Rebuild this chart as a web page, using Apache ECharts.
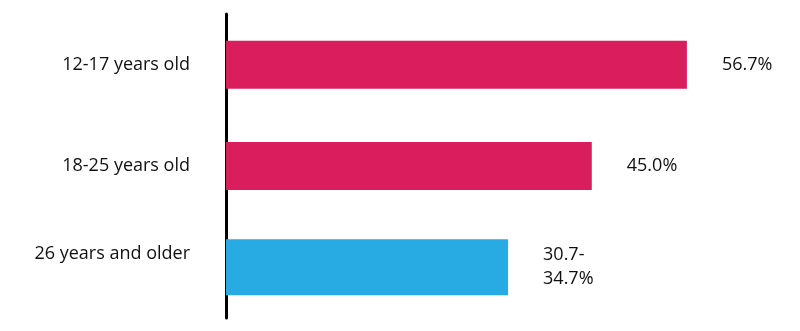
<!DOCTYPE html>
<html>
<head>
<meta charset="utf-8">
<script src="https://cdn.jsdelivr.net/npm/echarts@6/dist/echarts.min.js"></script>
<style>
html,body{margin:0;padding:0;background:#fff;}
#chart{width:800px;height:331px;}
</style>
</head>
<body>
<div id="chart"></div>
<script>
const categories = ['12-17 years old', '18-25 years old', '26 years and older'];
const youthValues = [56.7, 45.0, null];
const adultValues = [null, null, 34.7];
const valueLabels = ['56.7%', '45.0%', '30.7-\n34.7%'];

const FONT = '"Open Sans", sans-serif';
const chart = echarts.init(document.getElementById('chart'));

const labelCfg = {
  show: true,
  position: 'right',
  distance: 35,
  color: '#111',
  fontFamily: FONT,
  fontSize: 18,
  lineHeight: 24,
  formatter: p => valueLabels[p.dataIndex]
};

chart.setOption({
  animation: false,
  grid: { left: 226, top: 14, height: 304, width: 569 },
  xAxis: {
    type: 'value', min: 0, max: 70,
    show: false
  },
  yAxis: [
    {
      type: 'category',
      inverse: true,
      data: categories,
      axisLine: { show: true, lineStyle: { color: '#000', width: 3 } },
      axisTick: { show: false },
      axisLabel: {
        margin: 36, color: '#111', fontFamily: FONT, fontSize: 18, lineHeight: 26,
        formatter: (v, i) => i === 2 ? v + '\n ' : v
      },
      splitLine: { show: false }
    },
    {
      type: 'category',
      inverse: true,
      data: categories,
      show: false
    }
  ],
  series: [
    {
      type: 'bar',
      yAxisIndex: 0,
      data: youthValues,
      barWidth: 48,
      itemStyle: { color: '#DA1E5D' },
      label: labelCfg
    },
    {
      type: 'bar',
      yAxisIndex: 1,
      data: adultValues,
      barWidth: 56,
      itemStyle: { color: '#28ABE2' },
      label: labelCfg
    }
  ]
});
</script>
</body>
</html>
